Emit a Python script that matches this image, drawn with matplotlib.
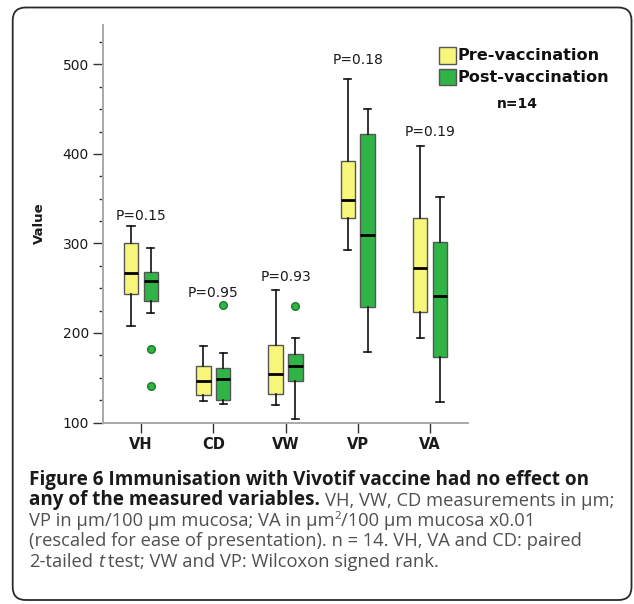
import matplotlib
matplotlib.use('Agg')
import matplotlib.pyplot as plt
from matplotlib.patches import FancyBboxPatch, Rectangle
from matplotlib.transforms import IdentityTransform
from matplotlib.ticker import MultipleLocator

# ---------------- data ----------------
categories = ['VH', 'CD', 'VW', 'VP', 'VA']
p_labels = ['P=0.15', 'P=0.95', 'P=0.93', 'P=0.18', 'P=0.19']
p_label_y = [331, 245, 263, 505, 425]

pre_whislo = [208, 124, 119, 293, 194]
pre_q1 = [243, 131, 132, 328, 223]
pre_med = [267, 146, 154, 349, 273]
pre_q3 = [300, 163, 187, 392, 328]
pre_whishi = [319, 186, 248, 484, 409]
pre_fliers = [[], [], [], [], []]

post_whislo = [222, 121, 104, 179, 123]
post_q1 = [236, 125, 146, 229, 173]
post_med = [258, 149, 163, 309, 241]
post_q3 = [268, 161, 176, 422, 302]
post_whishi = [295, 178, 194, 450, 352]
post_fliers = [[182, 141], [231], [230], [], []]

series_names = ['Pre-vaccination', 'Post-vaccination']
n_text = 'n=14'
y_ticks = [100, 200, 300, 400, 500]

YELLOW = '#F8F67A'
GREEN = '#2FB445'

W, H = 634, 604
fig = plt.figure(figsize=(W / 100, H / 100), dpi=100)
fig.patch.set_facecolor('white')

def px(x, y):
    return x / W, 1 - y / H

ax = fig.add_axes([103 / W, 1 - 422.5 / H, 365 / W, 397.5 / H])

def make_stats(lo, q1, med, q3, hi, fl):
    return [dict(whislo=a, q1=b, med=c, q3=d, whishi=e, fliers=f)
            for a, b, c, d, e, f in zip(lo, q1, med, q3, hi, fl)]

pre_stats = make_stats(pre_whislo, pre_q1, pre_med, pre_q3, pre_whishi, pre_fliers)
post_stats = make_stats(post_whislo, post_q1, post_med, post_q3, post_whishi, post_fliers)

off = 0.137
bw = 0.2
common = dict(widths=bw, patch_artist=True, manage_ticks=False,
              capwidths=0.1,
              medianprops=dict(color='black', lw=2.0),
              whiskerprops=dict(color='#111111', lw=1.2),
              capprops=dict(color='#111111', lw=1.2))
for stats, sign, col in [(pre_stats, -1, YELLOW), (post_stats, 1, GREEN)]:
    pos = [i + sign * off for i in range(len(categories))]
    ax.bxp(stats, positions=pos,
           boxprops=dict(facecolor=col, edgecolor='#555555', lw=1.0),
           flierprops=dict(marker='o', markerfacecolor=GREEN,
                           markeredgecolor='#1d7a2c', markersize=5.5, lw=0),
           **common)

for i, (lab, yv) in enumerate(zip(p_labels, p_label_y)):
    ax.text(i, yv, lab, ha='center', va='center', fontsize=10,
            color='#1a1a1a')

ax.set_xlim(-0.525, len(categories) - 1 + 0.525)
ax.set_ylim(100, 544)
ax.set_xticks(range(len(categories)))
ax.set_xticklabels(categories, fontsize=10.5, fontweight='bold', color='#1a1a1a')
ax.set_yticks(y_ticks)
ax.set_yticklabels([str(v) for v in y_ticks], fontsize=10, color='#1a1a1a')
ax.yaxis.set_minor_locator(MultipleLocator(25))
ax.tick_params(axis='both', which='major', length=7.2, width=1.0,
               color='#333333', direction='out')
ax.tick_params(axis='y', which='major', pad=3)
ax.tick_params(axis='x', which='major', pad=3.5)
ax.tick_params(axis='y', which='minor', length=2.9, width=1.0, color='#333333')
for s in ['top', 'right']:
    ax.spines[s].set_visible(False)
for s in ['left', 'bottom']:
    ax.spines[s].set_color('#a8a8a8')
    ax.spines[s].set_linewidth(1.4)
ax.set_ylabel('Value', fontsize=9.5, fontweight='bold', color='#1a1a1a')
ax.yaxis.set_label_coords(-0.155, 0.502)

# legend (drawn in figure pixels)
for (name, col, y0, yc) in [(series_names[0], YELLOW, 47, 56), (series_names[1], GREEN, 68.5, 77.5)]:
    fig.add_artist(Rectangle(px(439, y0 + 16.5), 17 / W, 16.5 / H,
                             transform=fig.transFigure, facecolor=col,
                             edgecolor='#555555', lw=1.0))
    fig.text(*px(458, yc), name, fontsize=11.6, fontweight='bold',
             ha='left', va='center', color='#111111')
fig.text(*px(517, 104), n_text, fontsize=10, fontweight='bold',
         ha='center', va='center', color='#111111')

# border
fig.add_artist(FancyBboxPatch((12.7, H - 600), 631.5 - 12.7, 600 - 7.5,
                              boxstyle='round,pad=0,rounding_size=13',
                              transform=IdentityTransform(), fill=False,
                              edgecolor='#2a2a2a', lw=1.3))

# caption
renderer = fig.canvas.get_renderer()
CAP_FONT = 'Open Sans'
BOLD_C = '#1a1a1a'
REG_C = '#505050'

def width_of(s, size, weight='normal', style='normal'):
    t = fig.text(0, 0, s, fontsize=size, fontweight=weight, fontstyle=style,
                 family=CAP_FONT, transform=IdentityTransform())
    w = t.get_window_extent(renderer).width
    t.remove()
    return w

line1 = 'Figure 6 Immunisation with Vivotif vaccine had no effect on'
line4 = '(rescaled for ease of presentation). n = 14. VH, VA and CD: paired'
bsize = 10 * 559 / width_of(line1, 10, 'bold')
rsize = 10 * 553 / width_of(line4, 10)

def space_w(size, weight='normal'):
    return width_of('a a', size, weight) - width_of('aa', size, weight)

def place(pieces, x0, base):
    x = x0
    for (s, kind, dy) in pieces:
        if s == ' ':
            x += space_w(rsize)
            continue
        if kind == 'b':
            kw = dict(fontsize=bsize, fontweight='bold', color=BOLD_C)
        elif kind == 'i':
            kw = dict(fontsize=rsize, fontstyle='italic', color=REG_C)
        elif kind == 's':
            kw = dict(fontsize=rsize * 0.62, color=REG_C)
        else:
            kw = dict(fontsize=rsize, color=REG_C)
        t = fig.text(x, H - base + dy, s, family=CAP_FONT, ha='left',
                     va='baseline', transform=IdentityTransform(), **kw)
        x += t.get_window_extent(renderer).width

x0 = 29
bases = [485, 505.5, 526, 546.5, 567]
place([(line1, 'b', 0)], x0, bases[0])
place([('any of the measured variables.', 'b', 0), (' ', 'r', 0),
       ('VH, VW, CD measurements in \u00b5m;', 'r', 0)], x0, bases[1])
place([('VP in \u00b5m/100 \u00b5m mucosa; VA in \u00b5m', 'r', 0),
       ('2', 's', 7), ('/100 \u00b5m mucosa x0.01', 'r', 0)], x0, bases[2])
place([(line4, 'r', 0)], x0, bases[3])
place([('2-tailed', 'r', 0), (' ', 'r', 0), ('t', 'i', 0), (' ', 'r', 0),
       ('test; VW and VP: Wilcoxon signed rank.', 'r', 0)], x0, bases[4])

fig.savefig('out.png', dpi=100, facecolor='white')
